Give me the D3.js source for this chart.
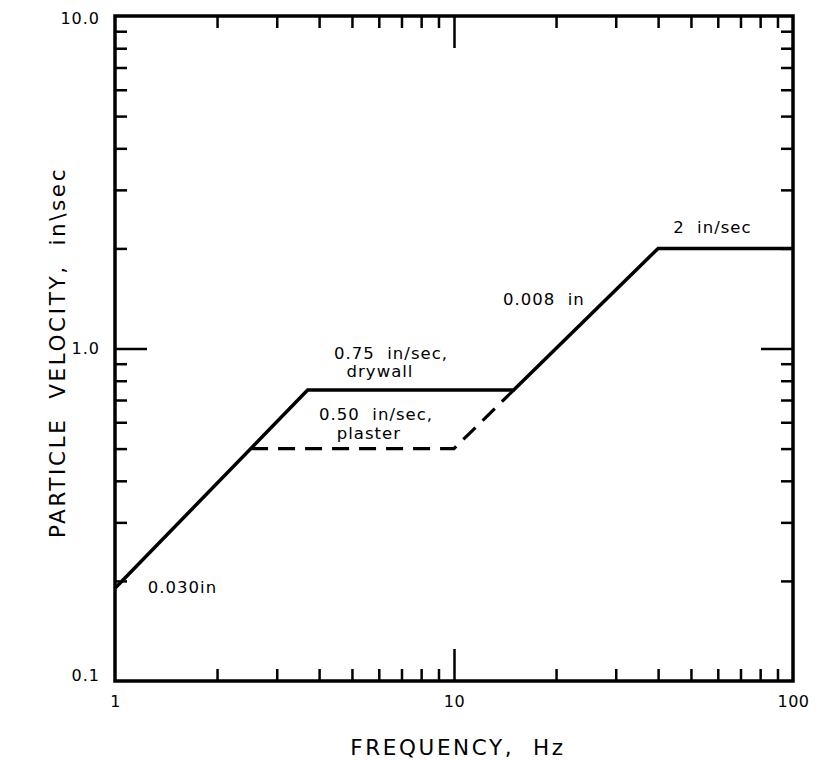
<html>
<head>
<style>
  body { margin: 0; background: #fff; }
  text { font-family: "DejaVu Sans", sans-serif; fill: #000; }
  .axis path { display: none; }
  .axis line { stroke: #000; stroke-width: 2.5px; }
</style>
<script src="https://d3js.org/d3.v7.min.js"></script>
</head>
<body>
<script>
// data (Hz, in/sec)
var drywall = [[1, 0.19], [3.7, 0.75], [15, 0.75], [40, 2], [100, 2]];
var plaster = [[2.52, 0.5], [10, 0.5], [15, 0.75]];
var xTickLabels = [1, 10, 100];
var yTickLabels = [0.1, 1, 10];
var minorFactors = [2, 3, 4, 5, 6, 7, 8, 9];
var notes = [
  { f: 1.25, v: 0.184, text: "0.030in", anchor: "start", dy: 0 },
  { f: 6.52, v: 0.75, text: "0.75  in/sec,", anchor: "middle", dy: -31 },
  { f: 6.05, v: 0.75, text: "drywall", anchor: "middle", dy: -13 },
  { f: 5.89, v: 0.5, text: "0.50  in/sec,", anchor: "middle", dy: -29 },
  { f: 5.61, v: 0.5, text: "plaster", anchor: "middle", dy: -10 },
  { f: 13.95, v: 1.352, text: "0.008  in", anchor: "start", dy: 0 },
  { f: 44.3, v: 2, text: "2  in/sec", anchor: "start", dy: -15 }
];

var width = 828, height = 760;
var pLeft = 115, pRight = 793, pTop = 16, pBottom = 681;

var svg = d3.select("body").append("svg")
  .attr("width", width).attr("height", height);

var x = d3.scaleLog().domain([1, 100]).range([pLeft, pRight]);
var y = d3.scaleLog().domain([0.1, 10]).range([pBottom, pTop]);

var xMinor = [], yMinor = [];
[1, 10].forEach(function(d) { minorFactors.forEach(function(m) { xMinor.push(d * m); }); });
[0.1, 1].forEach(function(d) { minorFactors.forEach(function(m) { yMinor.push(d * m); }); });

function addAxis(axis, tx, ty) {
  svg.append("g").attr("class", "axis")
    .attr("transform", "translate(" + tx + "," + ty + ")")
    .call(axis);
}

// minor ticks, all four sides, pointing inward
addAxis(d3.axisBottom(x).tickValues(xMinor).tickSize(-12).tickFormat(""), 0, pBottom);
addAxis(d3.axisTop(x).tickValues(xMinor).tickSize(-12).tickFormat(""), 0, pTop);
addAxis(d3.axisLeft(y).tickValues(yMinor).tickSize(-12).tickFormat(""), pLeft, 0);
addAxis(d3.axisRight(y).tickValues(yMinor).tickSize(-12).tickFormat(""), pRight, 0);
// major ticks
addAxis(d3.axisBottom(x).tickValues([10]).tickSize(-32).tickFormat(""), 0, pBottom);
addAxis(d3.axisTop(x).tickValues([10]).tickSize(-32).tickFormat(""), 0, pTop);
addAxis(d3.axisLeft(y).tickValues([1]).tickSize(-32).tickFormat(""), pLeft, 0);
addAxis(d3.axisRight(y).tickValues([1]).tickSize(-32).tickFormat(""), pRight, 0);

// tick labels
var xl = svg.append("g").attr("class", "axis")
  .attr("transform", "translate(0," + pBottom + ")")
  .call(d3.axisBottom(x).tickValues(xTickLabels).tickSize(0).tickPadding(15).tickFormat(d3.format("d")));
xl.selectAll("text").style("font-size", "16px").style("letter-spacing", "0.5px");

var yl = svg.append("g").attr("class", "axis")
  .attr("transform", "translate(" + (pLeft - 15) + ",0)")
  .call(d3.axisLeft(y).tickValues(yTickLabels).tickSize(0).tickPadding(0).tickFormat(d3.format(".1f")));
yl.selectAll("text").style("font-size", "16px").style("letter-spacing", "1px")
  .attr("dy", function(d) { return d < 0.5 ? "-0.05em" : (d > 5 ? "0.45em" : "0.32em"); });

// frame
svg.append("rect")
  .attr("x", pLeft).attr("y", pTop)
  .attr("width", pRight - pLeft).attr("height", pBottom - pTop)
  .attr("fill", "none").attr("stroke", "#000").attr("stroke-width", 3.5);

var line = d3.line()
  .x(function(d) { return x(d[0]); })
  .y(function(d) { return y(d[1]); });

svg.append("path").datum(plaster)
  .attr("d", line)
  .attr("fill", "none").attr("stroke", "#000").attr("stroke-width", 3.2)
  .attr("stroke-dasharray", "17,10");

svg.append("path").datum(drywall)
  .attr("d", line)
  .attr("fill", "none").attr("stroke", "#000").attr("stroke-width", 3.5)
  .attr("stroke-linejoin", "miter");

svg.selectAll(".note").data(notes).enter().append("text")
  .attr("class", "note")
  .attr("x", function(d) { return x(d.f); })
  .attr("y", function(d) { return y(d.v) + d.dy; })
  .attr("text-anchor", function(d) { return d.anchor; })
  .style("font-size", "16.5px")
  .style("letter-spacing", "1px")
  .style("white-space", "pre")
  .text(function(d) { return d.text; });

// axis titles
svg.append("text")
  .attr("x", (pLeft + pRight) / 2 + 4).attr("y", 755)
  .attr("text-anchor", "middle")
  .style("font-size", "21.5px")
  .style("letter-spacing", "2.6px")
  .style("white-space", "pre")
  .text("FREQUENCY,  Hz");

svg.append("text")
  .attr("transform", "translate(65," + ((pTop + pBottom) / 2 + 4) + ") rotate(-90)")
  .attr("text-anchor", "middle")
  .style("font-size", "21.5px")
  .style("letter-spacing", "2.6px")
  .style("white-space", "pre")
  .text("PARTICLE  VELOCITY,  in\\sec");
</script>
</body>
</html>
